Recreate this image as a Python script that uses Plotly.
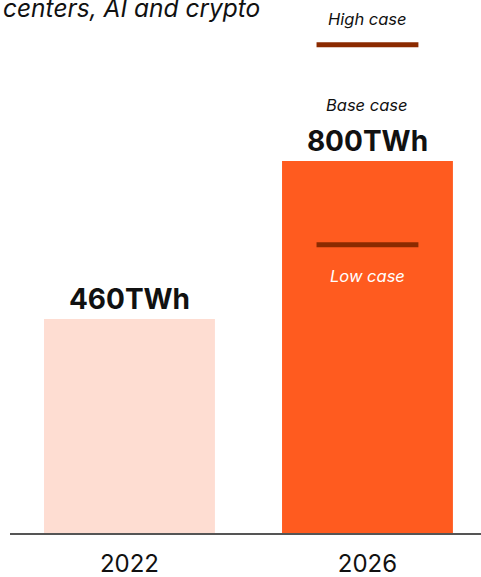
import plotly.graph_objects as go

# Electricity demand of data centers, AI and crypto (TWh)
years = ["2022", "2026"]
demand_twh = [460, 800]
bar_colors = ["#FEDDD2", "#FF5B1F"]
value_labels = ["460TWh", "800TWh"]

# 2026 scenario range
scenario_year = "2026"
high_case_twh = 1050
low_case_twh = 620

FONT = "Inter, Roboto, sans-serif"
LINE_COLOR = "#8B2A00"

fig = go.Figure()

fig.add_trace(go.Bar(
    x=[0, 1],
    y=demand_twh,
    width=0.718,
    marker=dict(color=bar_colors, line=dict(width=0)),
    text=value_labels,
    textposition="outside",
    textfont=dict(family=FONT, size=28, color="#111111", weight=700),
    cliponaxis=False,
    hoverinfo="skip",
))

# High / low scenario markers on the 2026 bar
xi = years.index(scenario_year)
for val in (high_case_twh, low_case_twh):
    fig.add_trace(go.Scatter(
        x=[xi - 0.214, xi + 0.214],
        y=[val, val],
        mode="lines",
        line=dict(color=LINE_COLOR, width=5),
        hoverinfo="skip",
    ))

italic = dict(family=FONT, size=16.5, color="#111111", style="italic")
fig.add_annotation(x=xi, y=high_case_twh, xref="x", yref="y", text="High case",
                   showarrow=False, yshift=26, font=italic)
fig.add_annotation(x=xi, y=demand_twh[xi], xref="x", yref="y", text="Base case",
                   showarrow=False, yshift=56, font=italic)
fig.add_annotation(x=xi, y=low_case_twh, xref="x", yref="y", text="Low case",
                   showarrow=False, yshift=-31,
                   font=dict(family=FONT, size=16.5, color="#FFFFFF", style="italic"))

# Subtitle continuing above the chart
fig.add_annotation(x=0, y=1, xref="paper", yref="paper", xanchor="left",
                   yanchor="bottom", yshift=-25, xshift=-9, showarrow=False,
                   text="centers, AI and crypto",
                   font=dict(family=FONT, size=24.5, color="#111111", style="italic"))

fig.update_layout(
    width=481, height=577,
    margin=dict(l=10, r=0, t=0, b=44, autoexpand=False),
    paper_bgcolor="white", plot_bgcolor="white",
    showlegend=False,
    xaxis=dict(
        range=[-0.502, 1.477],
        tickmode="array", tickvals=[0, 1], ticktext=years,
        showgrid=False, zeroline=False,
        showline=True, linecolor="#555555", linewidth=2,
        ticks="", ticklabelstandoff=8, automargin=False,
        tickfont=dict(family=FONT, size=24, color="#111111"),
        fixedrange=True,
    ),
    yaxis=dict(range=[0, 1146], visible=False, fixedrange=True, automargin=False),
)

fig.write_html("out.html")
